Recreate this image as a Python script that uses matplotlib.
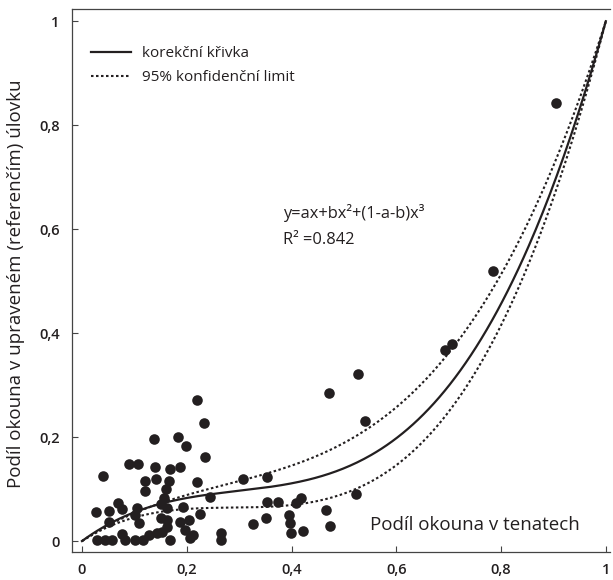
import numpy as np
import matplotlib.pyplot as plt

plt.rcParams['font.family'] = ['Open Sans', 'DejaVu Sans']

# observed points: share of perch in gillnets (x) vs. in corrected catch (y)
x_obs = [0.219, 0.233, 0.137, 0.183, 0.199, 0.234, 0.090, 0.107, 0.139, 0.168,
         0.188, 0.040, 0.142, 0.120, 0.167, 0.220, 0.308, 0.354, 0.120, 0.160,
         0.156, 0.244, 0.069, 0.027, 0.052, 0.076, 0.105, 0.150, 0.162, 0.193,
         0.225, 0.354, 0.375, 0.101, 0.051, 0.108, 0.150, 0.163, 0.187, 0.204,
         0.352, 0.327, 0.162, 0.197, 0.211, 0.076, 0.029, 0.044, 0.057, 0.082,
         0.101, 0.117, 0.127, 0.143, 0.152, 0.168, 0.206, 0.265, 0.265,
         0.527, 0.472, 0.541, 0.523, 0.408, 0.419, 0.396, 0.398, 0.399, 0.421,
         0.466, 0.473, 0.693, 0.706, 0.785, 0.905]
y_obs = [0.272, 0.228, 0.196, 0.201, 0.183, 0.162, 0.149, 0.149, 0.142, 0.139,
         0.142, 0.126, 0.120, 0.115, 0.116, 0.114, 0.119, 0.124, 0.097, 0.101,
         0.082, 0.084, 0.074, 0.056, 0.058, 0.061, 0.063, 0.072, 0.063, 0.066,
         0.053, 0.076, 0.076, 0.050, 0.037, 0.034, 0.044, 0.040, 0.037, 0.040,
         0.044, 0.032, 0.028, 0.021, 0.012, 0.013, 0.002, 0.002, 0.002, 0.002,
         0.002, 0.002, 0.012, 0.015, 0.018, 0.002, 0.005, 0.015, 0.002,
         0.321, 0.284, 0.231, 0.090, 0.074, 0.082, 0.051, 0.034, 0.015, 0.020,
         0.060, 0.029, 0.367, 0.379, 0.519, 0.842]

# fitted coefficients of y = ax + bx^2 + (1-a-b)x^3 and of the 95% limits
a_fit, b_fit = 0.74, -2.10
a_up, b_up = 0.67, -1.50
a_lo, b_lo = 0.65, -2.22

ticks = [0, 0.2, 0.4, 0.6, 0.8, 1]
tick_labels = ['0', '0,2', '0,4', '0,6', '0,8', '1']


def curve(x, a, b):
    return a * x + b * x ** 2 + (1 - a - b) * x ** 3


fig = plt.figure(figsize=(6.13, 5.8), dpi=100)
ax = fig.add_axes([0.1175, 0.0483, 0.8776, 0.9357])

xx = np.linspace(0, 1, 300)
ink = '#231f20'
ax.scatter(x_obs, y_obs, s=58, color=ink, zorder=3, linewidths=0)
ax.plot(xx, curve(xx, a_fit, b_fit), color=ink, lw=1.6, zorder=2,
        label='korekční křivka')
ax.plot(xx, curve(xx, a_up, b_up), color=ink, lw=1.5, ls=(0, (1.2, 1.2)),
        zorder=2, label='95% konfidenční limit')
ax.plot(xx, curve(xx, a_lo, b_lo), color=ink, lw=1.5, ls=(0, (1.2, 1.2)),
        zorder=2)

ax.set_xlim(-0.019, 1.008)
ax.set_ylim(-0.021, 1.023)
ax.set_xticks(ticks)
ax.set_xticklabels(tick_labels)
ax.set_yticks(ticks)
ax.set_yticklabels(tick_labels)
ax.tick_params(direction='in', length=4, width=0.8, color='#444444',
               labelsize=10.5, labelcolor=ink)
ax.tick_params(axis='x', pad=8)
ax.tick_params(axis='y', pad=9)
for lab in ax.get_xticklabels() + ax.get_yticklabels():
    lab.set_fontweight('semibold')

ax.spines['right'].set_visible(False)
for s in ['left', 'bottom', 'top']:
    ax.spines[s].set_linewidth(0.9)
    ax.spines[s].set_color('#444444')

ax.set_ylabel('Podíl okouna v upraveném (referenčím) úlovku', fontsize=13.5,
              color=ink)
ax.yaxis.set_label_coords(-0.088, 0.495)
ax.text(0.944, 0.05, 'Podíl okouna v tenatech', transform=ax.transAxes,
        ha='right', va='center', fontsize=13.5, color=ink)

ax.text(0.392, 0.624, 'y=ax+bx²+(1-a-b)x³', transform=ax.transAxes,
        fontsize=11.8, color=ink, va='center')
ax.text(0.392, 0.575, 'R² =0.842', transform=ax.transAxes,
        fontsize=11.8, color=ink, va='center')

leg = ax.legend(loc='upper left', bbox_to_anchor=(0.035, 0.932), frameon=False,
                fontsize=11, handlelength=2.6, handletextpad=0.72,
                labelspacing=0.6, borderaxespad=0, borderpad=0)
for t in leg.get_texts():
    t.set_color(ink)

fig.savefig('out.png', dpi=100)
